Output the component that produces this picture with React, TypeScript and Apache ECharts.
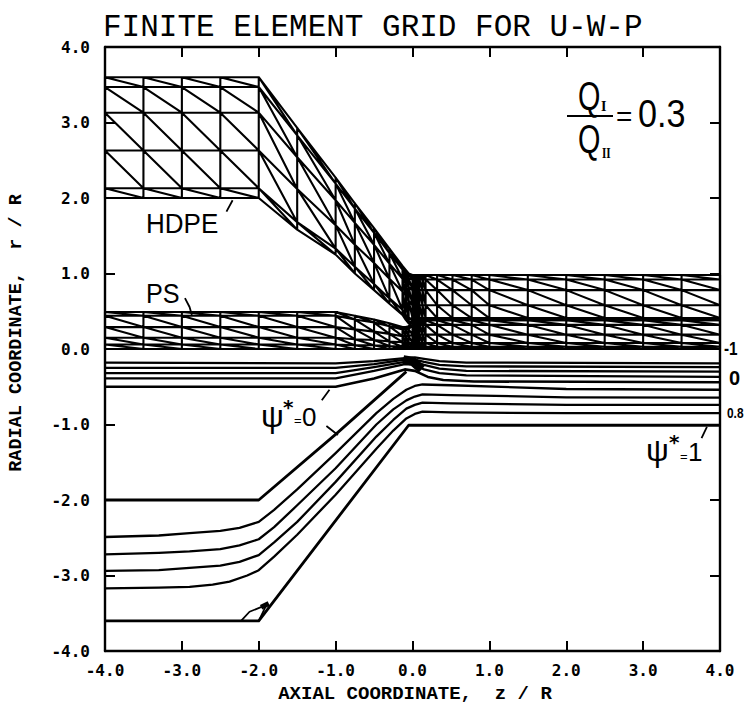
import React, { useEffect, useRef } from "react";
import * as echarts from "echarts";

const axisTicks = [-4, -3, -2, -1, 0, 1, 2, 3, 4];

// HDPE layer of the grid: one r-list per column, top to bottom
const hdpeLeftRows = [3.6, 3.47, 3.13, 2.63, 2.13, 2.0];
const hdpeRightRows = [0.98, 0.92, 0.78, 0.58, 0.41, 0.38];
const hdpeX = [-4, -3.5, -3, -2.5, -2, -1.5, -1, -0.75, -0.5, -0.3, -0.13, -0.09, -0.05, 0, 0.03, 0.06, 0.09, 0.13, 0.17, 0.32, 0.52, 0.77, 1, 1.5, 2, 2.5, 3, 3.5, 4];
const hdpeColumns = [
  hdpeLeftRows, hdpeLeftRows, hdpeLeftRows, hdpeLeftRows, hdpeLeftRows,
  [2.93, 2.83, 2.54, 2.12, 1.68, 1.58],
  [2.27, 2.19, 1.97, 1.64, 1.33, 1.25],
  [1.93, 1.86, 1.67, 1.38, 1.09, 1.0],
  [1.6, 1.54, 1.38, 1.14, 0.86, 0.78],
  [1.33, 1.27, 1.13, 0.93, 0.67, 0.6],
  [1.1, 1.05, 0.93, 0.76, 0.52, 0.45],
  [1.05, 1.0, 0.88, 0.71, 0.46, 0.39],
  [1.0, 0.94, 0.82, 0.64, 0.4, 0.34],
  hdpeRightRows, hdpeRightRows, hdpeRightRows, hdpeRightRows, hdpeRightRows,
  hdpeRightRows, hdpeRightRows, hdpeRightRows, hdpeRightRows, hdpeRightRows,
  hdpeRightRows, hdpeRightRows, hdpeRightRows, hdpeRightRows, hdpeRightRows, hdpeRightRows,
];

// PS layer of the grid
const psLeftRows = [0.49, 0.44, 0.29, 0.15, 0.06, 0];
const psRightRows = [0.38, 0.32, 0.19, 0.08, 0.03, 0];
const psX = [-4, -3.5, -3, -2.5, -2, -1.5, -1, -0.75, -0.5, -0.3, -0.13, -0.09, -0.05, 0, 0.03, 0.06, 0.09, 0.13, 0.17, 0.32, 0.52, 0.77, 1, 1.5, 2, 2.5, 3, 3.5, 4];
const psColumns = [
  psLeftRows, psLeftRows, psLeftRows, psLeftRows, psLeftRows, psLeftRows, psLeftRows,
  [0.44, 0.39, 0.26, 0.13, 0.05, 0],
  [0.39, 0.35, 0.23, 0.12, 0.05, 0],
  [0.34, 0.3, 0.2, 0.1, 0.04, 0],
  [0.29, 0.26, 0.17, 0.09, 0.03, 0],
  [0.29, 0.26, 0.17, 0.09, 0.03, 0],
  [0.3, 0.26, 0.17, 0.08, 0.03, 0],
  psRightRows, psRightRows, psRightRows, psRightRows, psRightRows,
  psRightRows, psRightRows, psRightRows, psRightRows, psRightRows,
  psRightRows, psRightRows, psRightRows, psRightRows, psRightRows, psRightRows,
];

// Stream lines, [z/R, r/R]
const streamUpper1 = [[-4, -0.18], [-1, -0.19], [-0.5, -0.16], [-0.1, -0.12], [0.03, -0.11], [0.15, -0.13], [0.35, -0.16], [0.7, -0.18], [4, -0.19]];
const streamUpper2 = [[-4, -0.25], [-1, -0.25], [-0.5, -0.2], [-0.1, -0.14], [0.03, -0.14], [0.15, -0.17], [0.35, -0.21], [0.7, -0.23], [4, -0.24]];
const streamUpper3 = [[-4, -0.32], [-1, -0.32], [-0.5, -0.24], [-0.1, -0.17], [0.03, -0.17], [0.15, -0.21], [0.35, -0.26], [0.7, -0.29], [4, -0.3]];
const streamUpper4 = [[-4, -0.39], [-1, -0.39], [-0.5, -0.29], [-0.1, -0.2], [0.03, -0.21], [0.15, -0.27], [0.35, -0.32], [0.7, -0.35], [4, -0.37]];
const streamUpper5 = [[-4, -0.5], [-1, -0.5], [-0.5, -0.39], [-0.1, -0.27], [0.03, -0.29], [0.2, -0.37], [0.4, -0.41], [0.8, -0.43], [4, -0.44]];
const streamZero = [[-4, -2], [-2, -2], [-1, -1.13], [-0.08, -0.3]];
const streamA = [[-4, -2.49], [-3.3, -2.47], [-2.9, -2.44], [-2.5, -2.41], [-2.25, -2.37], [-2, -2.29], [-1.8, -2.13], [-1.5, -1.86], [-1, -1.38], [-0.47, -0.85], [-0.25, -0.66], [-0.08, -0.54], [0.03, -0.49], [0.13, -0.47], [0.5, -0.48], [2, -0.53], [4, -0.54]];
const streamB = [[-4, -2.72], [-3.3, -2.7], [-2.9, -2.68], [-2.5, -2.65], [-2.25, -2.6], [-2, -2.52], [-1.8, -2.36], [-1.5, -2.07], [-1, -1.58], [-0.47, -1.0], [-0.25, -0.8], [-0.08, -0.68], [0.03, -0.63], [0.13, -0.6], [0.5, -0.61], [2, -0.64], [4, -0.645]];
const streamC = [[-4, -2.94], [-3.3, -2.93], [-2.9, -2.9], [-2.5, -2.87], [-2.25, -2.82], [-2, -2.73], [-1.8, -2.56], [-1.5, -2.29], [-1, -1.76], [-0.47, -1.16], [-0.25, -0.94], [-0.08, -0.79], [0.03, -0.74], [0.13, -0.71], [0.5, -0.72], [2, -0.74], [4, -0.74]];
const streamD = [[-4, -3.17], [-3.3, -3.16], [-2.9, -3.15], [-2.6, -3.12], [-2.38, -3.08], [-2.15, -3.0], [-2, -2.93], [-1.8, -2.75], [-1.5, -2.46], [-1, -1.93], [-0.47, -1.32], [-0.25, -1.08], [-0.08, -0.92], [0.03, -0.86], [0.13, -0.83], [0.5, -0.84], [2, -0.85], [4, -0.85]];
const streamWall = [[-4, -3.6], [-2, -3.6], [-0.05, -1.01], [4, -1.01]];
const stagnationBlob = [[-0.12, -0.14], [0, -0.16], [0.12, -0.27]];

// Small leader strokes next to the annotations
const leaders = [
  [[-2.42, 1.82], [-2.34, 1.97]],
  [[-2.96, 0.675], [-2.9, 0.556], [-2.87, 0.45]],
  [[-1.18, -0.68], [-1.08, -0.54]],
  [[-1.12, -1.02], [-0.97, -1.14]],
  [[3.76, -1.18], [3.83, -1.03]],
  [[-2.23, -3.6], [-2.12, -3.48], [-1.9, -3.39], [-2, -3.6]],
];
const leaderBlob = [[-1.97, -3.42], [-1.87, -3.37]];

const GAP = [null, null];

function meshData(xs: number[], cols: number[][]) {
  const out: any[] = [];
  const rowCount = cols[0].length;
  for (let j = 0; j < rowCount; j++) {
    xs.forEach((x, i) => out.push([x, cols[i][j]]));
    out.push(GAP);
  }
  xs.forEach((x, i) => {
    out.push([x, cols[i][0]], [x, cols[i][rowCount - 1]], GAP);
  });
  for (let i = 0; i < xs.length - 1; i++) {
    for (let j = 0; j < rowCount - 1; j++) {
      out.push([xs[i], cols[i][j]], [xs[i + 1], cols[i + 1][j + 1]], GAP);
    }
  }
  return out;
}

function joined(lines: number[][][]) {
  const out: any[] = [];
  lines.forEach((l) => {
    out.push(...l, GAP);
  });
  return out;
}

const lineSeries = (name: string, data: any[], width: number) => ({
  type: "line",
  name,
  data,
  showSymbol: false,
  symbol: "none",
  clip: false,
  connectNulls: false,
  silent: true,
  lineStyle: { color: "#000", width, join: "round" },
});

const sans = "'Liberation Sans', sans-serif";
const mono = "'Liberation Mono', monospace";
const tickFont = "'DejaVu Sans Mono', monospace";
const starFont = "'DejaVu Sans', sans-serif";

const txt = (
  text: string,
  x: number,
  y: number,
  fontSize: number,
  extra: { scaleX?: number; rotation?: number; fontWeight?: string; fontFamily?: string; align?: string } = {}
) => ({
  type: "text",
  x,
  y,
  scaleX: extra.scaleX ?? 1,
  rotation: extra.rotation ?? 0,
  silent: true,
  style: {
    text,
    fontSize,
    fontFamily: extra.fontFamily ?? sans,
    fontWeight: extra.fontWeight ?? "normal",
    fill: "#000",
    textAlign: extra.align ?? "left",
    textVerticalAlign: "middle",
  },
});

export default function App() {
  const ref = useRef<HTMLDivElement>(null);
  useEffect(() => {
    const chart = echarts.init(ref.current!, undefined, { renderer: "svg" });
    const valueAxis = (position: string, labelled: boolean, axisType: "x" | "y") => ({
      type: "value",
      position,
      min: axisTicks[0],
      max: axisTicks[axisTicks.length - 1],
      interval: axisTicks[1] - axisTicks[0],
      splitLine: { show: false },
      axisLine: { show: true, onZero: false, lineStyle: { color: "#000", width: 2.4 } },
      axisTick: { show: true, inside: true, length: 10, lineStyle: { color: "#000", width: 2 } },
      axisLabel: {
        show: labelled,
        margin: axisType === "x" ? 11 : 15,
        color: "#000",
        fontFamily: tickFont,
        fontWeight: "bold",
        fontSize: 16,
        formatter: (v: number) => v.toFixed(1),
      },
    });
    chart.setOption({
      animation: false,
      backgroundColor: "#fff",
      title: {
        text: "FINITE ELEMENT GRID FOR U-W-P",
        left: 98,
        top: 7,
        textStyle: { fontFamily: mono, fontSize: 31, fontWeight: "normal", color: "#000" },
      },
      grid: { left: 105, top: 47, width: 615, height: 604 },
      xAxis: [valueAxis("bottom", true, "x"), valueAxis("top", false, "x")],
      yAxis: [valueAxis("left", true, "y"), valueAxis("right", false, "y")],
      series: [
        lineSeries("HDPE grid", meshData(hdpeX, hdpeColumns), 2.1),
        lineSeries("PS grid", meshData(psX, psColumns), 2.1),
        lineSeries("Upper stream 1", streamUpper1, 2.3),
        lineSeries("Upper stream 2", streamUpper2, 2.3),
        lineSeries("Upper stream 3", streamUpper3, 2.3),
        lineSeries("Upper stream 4", streamUpper4, 2.3),
        lineSeries("Upper stream 5", streamUpper5, 2.6),
        lineSeries("Zero stream line", streamZero, 2.8),
        lineSeries("Stream A", streamA, 2.3),
        lineSeries("Stream B", streamB, 2.3),
        lineSeries("Stream C", streamC, 2.3),
        lineSeries("Stream D", streamD, 2.3),
        lineSeries("Wall", streamWall, 2.8),
        lineSeries("Stagnation", stagnationBlob, 9),
        lineSeries("Leaders", joined(leaders), 1.8),
        lineSeries("Leader blob", leaderBlob, 5),
      ],
      graphic: [
        txt("AXIAL COORDINATE,  z / R", 415, 694, 19, { fontFamily: mono, fontWeight: "bold", align: "center" }),
        txt("RADIAL COORDINATE,  r / R", 16, 333, 18.5, { fontFamily: mono, fontWeight: "bold", align: "center", rotation: Math.PI / 2 }),
        txt("HDPE", 146, 224, 28, { scaleX: 0.93 }),
        txt("PS", 146, 294, 28, { scaleX: 0.9 }),
        txt("ψ", 261, 416, 32),
        txt("*", 283, 407, 20, { fontFamily: starFont, fontWeight: "bold" }),
        txt("=", 294, 420, 13),
        txt("0", 302, 417, 26),
        txt("ψ", 646, 450, 32),
        txt("*", 669, 442, 20, { fontFamily: starFont, fontWeight: "bold" }),
        txt("=", 680, 456, 13),
        txt("1", 688, 452, 26),
        txt("Q", 578, 96, 40, { scaleX: 0.72 }),
        txt("I", 601, 106, 14, { fontFamily: "'Liberation Serif', serif", fontWeight: "bold" }),
        { type: "line", silent: true, shape: { x1: 567, y1: 116, x2: 613, y2: 116 }, style: { stroke: "#000", lineWidth: 2 } },
        txt("Q", 578, 139, 40, { scaleX: 0.72 }),
        txt("II", 602, 154, 14, { fontFamily: "'Liberation Serif', serif", fontWeight: "bold", scaleX: 0.8 }),
        txt("=", 616, 116, 28),
        txt("0.3", 638, 114, 38, { scaleX: 0.9 }),
        txt("-1", 724, 349, 18, { fontWeight: "bold", scaleX: 0.85 }),
        txt("0", 729, 378, 20, { fontWeight: "bold" }),
        txt("0.8", 727, 413, 14, { fontWeight: "bold", scaleX: 0.85 }),
      ],
    });
    return () => chart.dispose();
  }, []);
  return <div ref={ref} style={{ position: "fixed", left: 0, top: 0, width: 749, height: 705 }} />;
}
